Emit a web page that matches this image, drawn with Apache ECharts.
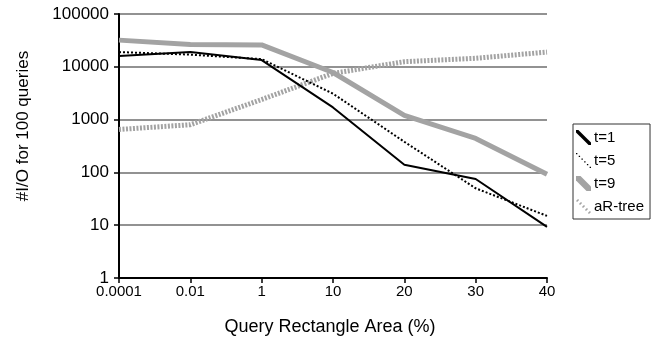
<!DOCTYPE html>
<html><head><meta charset="utf-8">
<script src="https://cdn.jsdelivr.net/npm/echarts@6/dist/echarts.min.js"></script>
<style>html,body{margin:0;padding:0;background:#fff}#c{width:666px;height:344px}</style>
</head><body><div id="c"></div>
<script>
var categories = ['0.0001', '0.01', '1', '10', '20', '30', '40'];
var t1 = [16000, 19000, 13400, 1700, 140, 75, 9.3];
var t5 = [19000, 17000, 14000, 3100, 380, 50, 15];
var t9 = [32000, 26500, 26000, 7800, 1200, 440, 92];
var aRtree = [650, 800, 2400, 7500, 12500, 14500, 19000];
var yTicks = [1, 10, 100, 1000, 10000, 100000];

var gray = '#a3a3a3';
var iconSolid = 'path://M0,0L1.6,0L10,8.4L10,10L8.4,10L0,1.6Z';
var iconThick = 'path://M0,0L3,0L10,7L10,10L7,10L0,3Z';
function dotted() {
  var p = 'path://';
  for (var i = 0; i < 6; i++) { var s = i * 1.8; p += 'M' + s + ',' + s + 'h0.9v0.9h-0.9Z'; }
  return p;
}
function dashedThick() {
  var p = 'path://';
  for (var i = 0; i < 5; i++) { var s = i * 2.2; p += 'M' + (s + 1.5) + ',' + (s) + 'L' + (s + 2.3) + ',' + (s + 0.8) + 'L' + (s + 0.8) + ',' + (s + 2.3) + 'L' + s + ',' + (s + 1.5) + 'Z'; }
  return p;
}
var font = 'Liberation Sans, Arial, sans-serif';
var chart = echarts.init(document.getElementById('c'));
chart.setOption({
  animation: false,
  backgroundColor: '#fff',
  grid: { left: 119, right: 119, top: 14, bottom: 66 },
  legend: {
    orient: 'vertical', left: 573, top: 124,
    padding: [6, 6, 5, 3], itemGap: 8, itemWidth: 15, itemHeight: 15,
    borderColor: '#333', borderWidth: 1,
    textStyle: { fontFamily: font, fontSize: 15, color: '#000', padding: [0, 0, 0, -2] },
    data: [
      { name: 't=1', icon: iconSolid, itemStyle: { color: '#000' } },
      { name: 't=5', icon: dotted(), itemStyle: { color: '#000' } },
      { name: 't=9', icon: iconThick, itemStyle: { color: gray } },
      { name: 'aR-tree', icon: dashedThick(), itemStyle: { color: gray } }
    ]
  },
  xAxis: {
    type: 'category', data: categories, boundaryGap: false,
    name: 'Query Rectangle Area (%)', nameLocation: 'middle', nameGap: 40,
    nameTextStyle: { fontFamily: font, fontSize: 18, color: '#000', padding: [0, 6, 0, 0] },
    axisLine: { lineStyle: { color: '#000', width: 2 } },
    axisTick: { show: true, length: 5, lineStyle: { color: '#000', width: 1.5 } },
    axisLabel: { fontFamily: font, fontSize: 15, color: '#000', margin: 6 },
    splitLine: { show: false }
  },
  yAxis: {
    type: 'log', logBase: 10, min: yTicks[0], max: yTicks[yTicks.length - 1],
    name: '#I/O for 100 queries', nameLocation: 'middle', nameGap: 87,
    nameTextStyle: { fontFamily: font, fontSize: 17, color: '#000', padding: [0, 0, 0, 40] },
    axisLine: { show: true, lineStyle: { color: '#000', width: 2 } },
    axisTick: { show: true, length: 5, lineStyle: { color: '#000', width: 1.5 } },
    axisLabel: { fontFamily: font, fontSize: 17, color: '#000', margin: 10,
      formatter: function (v) { return String(v); } },
    splitLine: { show: true, lineStyle: { color: '#6e6e6e', width: 1.5 } },
    minorTick: { show: false }
  },
  series: [
    { name: 't=1', type: 'line', data: t1, symbol: 'none', z: 4,
      lineStyle: { color: '#000', width: 2 }, itemStyle: { color: '#000' } },
    { name: 't=5', type: 'line', data: t5, symbol: 'none', z: 3,
      lineStyle: { color: '#000', width: 2, type: [2, 2] }, itemStyle: { color: '#000' } },
    { name: 't=9', type: 'line', data: t9, symbol: 'none', z: 2,
      lineStyle: { color: gray, width: 5 }, itemStyle: { color: gray } },
    { name: 'aR-tree', type: 'line', data: aRtree, symbol: 'none', z: 2,
      lineStyle: { color: gray, width: 5, type: [2, 1.5] }, itemStyle: { color: gray } }
  ]
});
</script></body></html>
